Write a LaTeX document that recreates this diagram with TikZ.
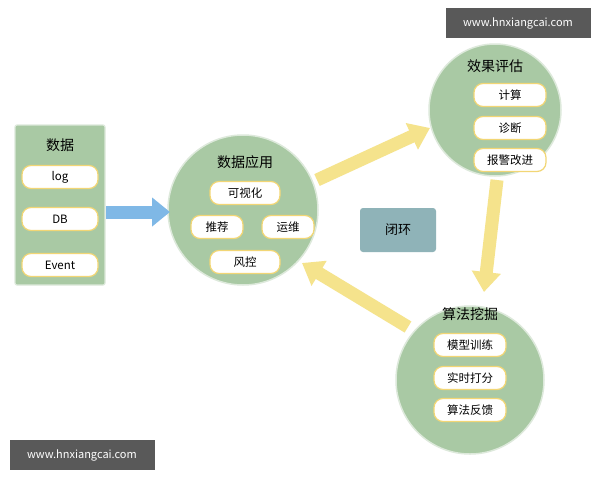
\documentclass[tikz,border=0pt]{standalone}
\usepackage{fontspec}
\setmainfont{Noto Sans CJK SC}
\usetikzlibrary{arrows.meta}
\definecolor{gr}{HTML}{A9C9A4}
\definecolor{pillb}{HTML}{F2D675}
\definecolor{yel}{HTML}{F5E38C}
\definecolor{blu}{HTML}{7FB8E6}
\definecolor{loop}{HTML}{8FB3B8}
\begin{document}
\begin{tikzpicture}[x=1pt,y=-1pt,
 circ/.style={circle,fill=gr,draw=gr!40!white,line width=1.5pt,minimum size=#1},
 pill/.style={rounded corners=9pt,fill=white,draw=pillb,line width=1.2pt,minimum height=23pt,minimum width=#1,font=\fontsize{11.5}{13}\selectfont},
 ttl/.style={font=\fontsize{14}{16}\selectfont},
 yarrow/.style={draw=yel,line width=13pt,-{Triangle[width=28pt,length=20pt]}},
 wm/.style={fill=black!65,text=white,minimum width=145pt,minimum height=30pt,font=\fontsize{11}{12}\selectfont}]
\useasboundingbox (0,0) rectangle (600,480);
\fill[white] (0,0) rectangle (600,480);
\node[wm] (w1) at (518,23) {www.hnxiangcai.com};
\node[wm] (w2) at (82,455) {www.hnxiangcai.com};
% left box
\node[fill=gr,draw=gr!40!white,line width=1.2pt,minimum width=90pt,minimum height=160pt,rounded corners=2pt] (src) at (60,205) {};
\node[ttl] (st) at (60,145) {数据};
\node[pill=76pt] (log) at (60,177) {log};
\node[pill=76pt] (db) at (60,219) {DB};
\node[pill=76pt] (ev) at (60,265) {Event};
% circles
\node[circ=150pt] (app) at (243,210) {};
\node[circ=132pt] (eval) at (495,110) {};
\node[circ=148pt] (alg) at (470,380) {};
\node[fill=loop,rounded corners=3pt,minimum width=76pt,minimum height=44pt,font=\fontsize{13}{15}\selectfont] (loopn) at (398,230) {闭环};
% arrows
\coordinate (b1) at (106,212); \coordinate (b2) at (170,212);
\draw[draw=blu,line width=13pt,-{Triangle[width=28pt,length=18pt]}] (b1) -- (b2);
\coordinate (y1s) at (317,180); \coordinate (y1e) at (430,128);
\coordinate (y2s) at (497,180); \coordinate (y2e) at (484,292);
\coordinate (y3s) at (408,327); \coordinate (y3e) at (302,263);
\draw[yarrow] (y1s) -- (y1e);
\draw[yarrow] (y2s) -- (y2e);
\draw[yarrow] (y3s) -- (y3e);
% app contents
\node[ttl] (at) at (245,162) {数据应用};
\node[pill=70pt] (a1) at (245,193) {可视化};
\node[pill=52pt] (a2) at (217,227) {推荐};
\node[pill=52pt] (a3) at (288,227) {运维};
\node[pill=70pt] (a4) at (245,262) {风控};
% eval
\node[ttl] (et) at (495,66) {效果评估};
\node[pill=72pt] (e1) at (510,95) {计算};
\node[pill=72pt] (e2) at (510,128) {诊断};
\node[pill=72pt] (e3) at (510,160) {报警改进};
% alg
\node[ttl] (lt) at (470,314) {算法挖掘};
\node[pill=72pt] (l1) at (470,345) {模型训练};
\node[pill=72pt] (l2) at (470,378) {实时打分};
\node[pill=72pt] (l3) at (470,410) {算法反馈};
\end{tikzpicture}
\end{document}
